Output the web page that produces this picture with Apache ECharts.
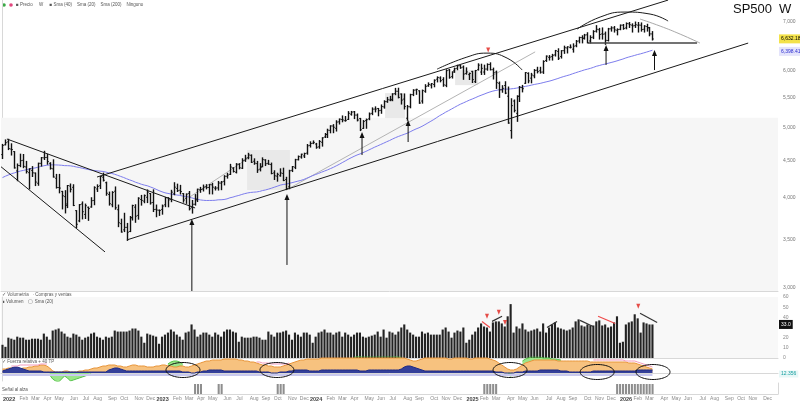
<!DOCTYPE html>
<html><head><meta charset="utf-8">
<script src="https://cdn.jsdelivr.net/npm/echarts@6/dist/echarts.min.js"></script>
<style>html,body{margin:0;padding:0;background:#fff}#c{width:800px;height:402px}</style>
</head><body><div id="c"></div>
<script>
// ---------------- DATA ----------------
const firstWeek = '2021-12-20';
const categoryCount = 263;
const monthNames = ['Jan','Feb','Mar','Apr','May','Jun','Jul','Aug','Sep','Oct','Nov','Dec'];

// weekly OHLC [open, high, low, close]
const ohlc = [
[4588,4740,4531,4725],[4733,4808,4733,4766],
[4778,4818,4662,4677],[4670,4749,4582,4663],[4632,4632,4395,4398],[4356,4453,4222,4432],[4431,4595,4415,4501],
[4505,4590,4401,4419],[4412,4490,4327,4349],[4332,4385,4114,4385],[4363,4416,4279,4329],
[4327,4327,4157,4204],[4188,4465,4161,4463],[4462,4546,4424,4543],[4541,4637,4517,4546],
[4547,4593,4450,4488],[4462,4471,4381,4392],[4385,4513,4271,4272],[4255,4308,4124,4132],
[4131,4308,4062,4124],[4081,4081,3859,4024],[4013,4090,3810,3901],[3920,4158,3875,4158],[4151,4178,4074,4109],
[4134,4168,3900,3901],[3838,3838,3636,3675],[3715,3913,3705,3912],[3920,3946,3738,3825],
[3792,3919,3743,3899],[3880,3882,3721,3863],[3883,3999,3880,3962],[3965,4141,3911,4130],
[4112,4167,4080,4145],[4155,4281,4118,4280],[4270,4325,4218,4228],[4195,4203,4031,4057],[4041,4072,3906,3924],
[3910,4077,3886,4067],[4083,4139,3855,3873],[3849,3907,3647,3693],[3682,3735,3584,3585],
[3610,3806,3590,3639],[3639,3685,3491,3583],[3591,3767,3590,3752],[3753,3905,3725,3901],[3881,3911,3698,3771],
[3780,3999,3735,3993],[3977,4029,3906,3965],[3956,4034,3936,4026],[4005,4100,3938,4072],
[4053,4053,3919,3934],[3939,4101,3827,3852],[3854,3907,3764,3845],[3843,3846,3780,3840],
[3853,3907,3795,3895],[3910,4003,3887,3999],[3999,3999,3885,3972],[3978,4095,3949,4071],[4049,4195,4037,4136],
[4119,4176,4079,4090],[4096,4160,4047,4079],[4052,4052,3943,3970],[3992,4048,3928,4046],
[4055,4079,3847,3862],[3874,3964,3808,3917],[3917,4039,3906,3971],[3982,4110,3951,4109],
[4102,4133,4069,4105],[4110,4164,4086,4137],[4140,4169,4114,4133],[4132,4170,4049,4169],
[4167,4187,4048,4136],[4123,4143,4099,4124],[4126,4212,4098,4191],[4190,4212,4103,4205],[4214,4290,4166,4282],
[4282,4322,4257,4299],[4308,4448,4306,4410],[4397,4400,4341,4348],[4337,4458,4328,4450],
[4450,4457,4385,4399],[4394,4528,4389,4505],[4508,4578,4490,4536],[4543,4607,4528,4582],[4578,4584,4474,4478],
[4492,4527,4449,4464],[4459,4490,4335,4370],[4380,4458,4356,4406],[4419,4541,4413,4515],
[4511,4514,4431,4457],[4462,4505,4448,4450],[4445,4466,4316,4320],[4328,4358,4238,4288],
[4284,4324,4216,4308],[4289,4385,4283,4327],[4321,4394,4223,4224],[4238,4268,4104,4117],[4140,4365,4116,4358],
[4364,4418,4347,4415],[4407,4520,4388,4514],[4514,4568,4511,4559],[4554,4595,4537,4594],
[4569,4609,4546,4604],[4610,4738,4594,4719],[4725,4779,4700,4754],[4758,4793,4751,4770],
[4745,4755,4682,4697],[4703,4798,4682,4784],[4772,4842,4714,4840],[4853,4907,4845,4891],[4892,4975,4845,4959],
[4957,5030,4918,5027],[5026,5048,4920,5006],[4989,5111,4946,5089],[5093,5140,5058,5137],
[5131,5190,5094,5124],[5112,5180,5104,5117],[5133,5262,5131,5234],[5219,5265,5203,5254],
[5258,5264,5146,5204],[5204,5222,5108,5123],[5149,5149,4953,4967],[4988,5114,4987,5100],[5114,5139,4990,5128],
[5142,5239,5128,5223],[5233,5325,5211,5303],[5305,5342,5257,5305],[5315,5315,5192,5278],
[5283,5375,5234,5347],[5342,5447,5320,5432],[5431,5505,5420,5465],[5460,5524,5448,5460],
[5471,5570,5448,5567],[5572,5666,5553,5615],[5614,5669,5497,5505],[5565,5566,5390,5459],[5476,5566,5306,5347],
[5152,5366,5119,5344],[5344,5561,5326,5554],[5554,5642,5537,5634],[5637,5651,5560,5648],
[5623,5623,5402,5408],[5442,5636,5406,5626],[5615,5733,5597,5703],[5711,5767,5704,5738],[5727,5754,5674,5751],
[5737,5822,5695,5815],[5834,5878,5784,5865],[5857,5878,5785,5808],[5826,5862,5704,5729],
[5722,6012,5697,5996],[6008,6018,5853,5870],[5883,5973,5856,5969],[5992,6044,5963,6032],
[6040,6099,6013,6090],[6090,6100,6040,6051],[6063,6085,5832,5931],[5940,6049,5929,5971],[5920,5949,5829,5942],
[5982,5982,5773,5827],[5788,6000,5773,5997],[6014,6128,6007,6101],[5969,6120,5923,6040],
[5969,6101,5924,6026],[6026,6127,6004,6115],[6115,6147,6009,6013],[6013,6044,5838,5955],
[5968,5987,5666,5770],[5759,5782,5505,5639],[5640,5715,5597,5667],[5718,5787,5572,5581],[5527,5691,5069,5074],
[4953,5482,4835,5363],[5442,5460,5257,5283],[5233,5534,5101,5525],[5525,5700,5434,5687],
[5680,5720,5603,5660],[5759,5959,5756,5958],[5944,5954,5768,5803],[5854,5944,5767,5912],
[5897,6016,5861,6000],[6004,6060,5952,5977],[5994,6060,5949,5967],[5969,6187,5943,6173],[6193,6284,6174,6279],
[6255,6290,6201,6260],[6269,6315,6201,6297],[6304,6395,6281,6389],[6374,6428,6212,6238],
[6271,6390,6241,6389],[6389,6482,6335,6450],[6445,6470,6343,6467],[6457,6508,6445,6460],
[6420,6530,6360,6482],[6490,6600,6470,6584],[6590,6670,6550,6664],[6660,6700,6550,6644],[6650,6730,6630,6716],
[6720,6765,6550,6553],[6590,6700,6550,6664],[6670,6810,6640,6791],[6800,6920,6780,6840],
[6830,6860,6630,6728],[6740,6870,6630,6734],[6740,6780,6520,6603],[6600,6860,6590,6849],
[6850,6895,6800,6870],[6870,6900,6780,6827],[6820,6850,6720,6834],[6840,6935,6830,6930],[6930,6945,6840,6858],
[6870,6980,6850,6966],[6960,6990,6880,6940],[6930,6960,6780,6915],[6920,7000,6880,6939],
[6930,6990,6780,6932],[6930,6980,6800,6836],[6840,6920,6780,6909],[6900,6950,6800,6878],
[6870,6880,6700,6740],[6740,6790,6610,6632.18]
];

// weekly closes before the first bar (for the 52-week average)
const priorCloses = [3756,3825,3768,3841,3714,3887,3934,3907,3811,3842,3943,3913,
3975,4020,4129,4185,4180,4181,4233,4174,4156,4204,4230,4247,4166,4281,4352,4370,4327,4412,4395,4437,4468,4442,4509,4535,4459,4433,4455,4357,4391,4471,4545,4605,4697,4682,4698,4595,4538,4712,4620];
const smaLength = 52;

// weekly volume (panel units)
const volume = [
13,11,20,19,18,21,20,20,18,18,19,19,19,18,24,21,18,27,28,29,26,24,21,20,24,23,21,18,20,21,
24,25,21,20,18,21,20,21,27,26,26,26,26,27,29,29,27,21,15,24,23,22,21,14,21,23,25,28,26,23,
21,18,25,26,33,28,21,23,25,25,23,21,25,23,21,26,28,28,26,25,16,21,20,20,20,21,21,20,18,18,
26,23,21,25,25,26,27,23,18,25,23,21,25,25,23,15,21,25,26,28,25,25,23,25,26,21,25,23,21,23,
25,25,21,20,21,22,23,26,21,28,20,26,25,23,26,
30,33,28,25,23,21,21,26,24,25,23,23,23,23,28,30,26,20,25,27,26,30,15,18,23,26,30,34,31,30,
26,35,36,36,34,31,41,53,25,31,29,34,28,26,27,28,29,26,34,25,30,33,35,30,29,28,27,28,30,36,
38,32,31,33,32,32,36,37,32,33,30,31,35,41,15,16,33,35,36,43,39,25,35,34,33,33
];

// oscillator panel
const indOrange = [
4,4,5,5,5,4,4,5,5,6,6,7,7, 8,8,7,5, 2,1,1,1,2,2,1,1,1,2,2,3,3,4, 5,5,6,7,7,8, 8,8,7,7,6,6,7,8,8,
7,7,7,6,6,6,7,7,8,8,7, 7,6,6,7,7,6,6,7,8,9,10,
11,12,12,13,13,13,13,14,14,14,14,14,13,13,12,12,11,11,10,9, 8,8,7,7,6,6,6,7,8,9,
10,11,12,13,13,14,14,14,14,14,15,15,15,15,15,15,15,15,15,15,15,15,15,15,15,15,15,15,15,15,15,15,15,15,15,15,15,15,
15,14,13,12,12,13,14,
15,15,15,15,15,15,15,15,14,14,15,15,15,15,15,14,14,15,15,15,15,15,
14,13,12,10,8,6,4,3,3,4,6,8, 10,11,12,13,13,13,13,13,13,13,13,12,12,
12,12,12,12,12,12,12,12,12,11,11,11,11,11,11,11,11,11,11,11,11,11,10,10,10,9, 8,7,6,5,4
];
const indNavy = [
2,3,4,5,6,6,5,4,3,2,2,2,2,2, 1,1,1,1,1,1,1,1,1,1,1,1,1,1,1,1,1,1,1,1,1,1, 3,4,5,5,4,3,2,2,2,2,
2,2,2,2,2,2,2,2,2,2,2,2,2,2,2, 1,1,1,0,0,1,1,
2,2,3,3,3,3,3,2,2,2,2,2,2,2,2,2,2,2,2,1, 1,1,1,0,0,0,1,1,1,2,
2,3,3,3,3,3,2,2,2,2,3,3,3,3,3,3,3,3,3,3,3,3,3,2,2,2,3,3,3,3,3,3,3,3,3,3,3,
4,6,7,7,6,5,4,3,
2,2,2,2,2,2,2,2,2,2,2,2,2,2,2,2,2,2,2,2,2,2,
2,2,1,1,1,0,0,0,0,1,1,1,2,
2,2,2,2,3,3,3,3,3,3,3,2,2,2,1,1,1,1,1,1,1,1,2,2,2,2,2,2,2,2,2,2,2,2,2,2,2,3,
3,3,3,3,3
];
// green segments: start week -> values
const indGreenSegments = [
  [16, [-2,-6,-8,-9,-6,-3,-5,-8,-7,-6,-5,-4,-3,-2,-1]],
  [56, [9,11,12,12,11,9]],
  [119,[16,16.5,16.5,17,17,17,17,17,17,17,17,17,17,17,16.5,16,16]],
  [171,[-2,-3,-2]],
  [176,[12,14,15,16,16,16,16,15,15,15,14,14,13.5,13]]
];
const indPinkSegments = [
  [3,  [7,7,7,8,8,8,8,8,8,8,9,9,9]],
  [86, [11,11,10,10,10,9,9,9,9,9,9,10]],
  [200,[13,13,13,13,13,13,13,13,13,13,13,12,12,12,12,11,10,9,8,7,6]]
];
const signalWeeks = [65,66,67,73,74,93,94,95,163,164,165,166,167,208,209,210,211,212,213,214,215,216,217,218,219,220];
const oscTagValue = 12.356;

// price-axis ticks
const priceTicks = [3000,3500,4000,4500,5000,5500,6000,7000];
const priceRange = [2971, 7509];

// annotations in (week index, price)
const blackLines = [
  [[1.5,4822],[65.2,3871]],
  [[-0.5,4414],[34.7,3365]],
  [[42.1,3496],[252.4,6546]],
  [[32.0,4272],[225.3,7507]]
];
const supportLine = [[198.2,6546],[235.1,6546]];
const grayLines = [
  [[63.4,4009],[83.8,4553]],
  [[97.3,4125],[180.3,6365]]
];
const blackCurves = [
  [[147.1,6024],[157.2,6260],[164.0,6340],[170.8,6240],[175.9,6007]],
  [[194.5,6845],[202.3,7112],[210.7,7226],[219.2,7180],[225.3,7022]]
];
const grayCurves = [
  [[215.8,7067],[222.6,6910],[229.4,6735],[236.1,6546]]
];
const arrows = [ // [week, fromPrice, toPrice]
  [64.1,2971,3702],[96.3,3228,4009],[121.7,4582,4883],[137.3,4776,5074],[204.3,6106,6446],[220.7,6007,6343]
];
const shadedBoxes = [
  [[82.8,4098],[97.3,4656]],
  [[129.5,5154],[136.3,5581]],
  [[153.2,5725],[161.0,6007]]
];
const lowerZoneTop = 5160;
const priceRedMarks = [[164.4,6401]];
// volume annotations (week index, volume)
const volRedLines = [ [[162.3,36],[165,30]], [[201.6,41],[207.4,34]] ];
const volBlackLines = [ [[165.7,36],[169.1,41]], [[184.3,30],[187.7,36]], [[195.5,37],[199.9,31]], [[215.8,44],[221.6,35]] ];
const volRedMarks = [[164,41],[168,45],[170.1,35],[215.2,51]];
// oscillator ellipses (week index, value)
const ellipseCenters = [[61.1,3],[92.9,3],[171.8,3],[201.3,1],[220.2,1]];

// ---------------- BUILD ----------------
const L = Math.log;
const cats = [];
const t0 = Date.parse(firstWeek + 'T00:00:00Z');
for (let i = 0; i < categoryCount; i++) cats.push(new Date(t0 + i * 7 * 86400000).toISOString().slice(0, 10));

const closes = ohlc.map(d => d[3]);
const allCloses = priorCloses.concat(closes);
const sma = closes.map((c, i) => {
  const j = i + priorCloses.length; let s = 0;
  for (let k = j - smaLength + 1; k <= j; k++) s += allCloses[k];
  return s / smaLength;
});
const lastClose = closes[closes.length - 1];
const lastSma = sma[sma.length - 1];

function fromSegments(segs) {
  const arr = new Array(ohlc.length).fill(null);
  segs.forEach(([s, vals]) => vals.forEach((v, k) => { if (s + k < arr.length) arr[s + k] = v; }));
  return arr;
}
const indGreen = fromSegments(indGreenSegments);
const indPink = fromSegments(indPinkSegments);
const signals = ohlc.map((d, i) => signalWeeks.includes(i) ? 1 : null);

const fmt = v => v.toLocaleString('en-US', {minimumFractionDigits: 2, maximumFractionDigits: 2});
const logPts = pts => pts.map(p => [p[0], L(p[1])]);
const FONT = 'Liberation Sans, Arial, sans-serif';
const hiddenLine = {color: 'rgba(0,0,0,0)', width: 0};

const series = [];
// price bars (OHLC)
series.push({
  type: 'custom', xAxisIndex: 0, yAxisIndex: 0, z: 5,
  data: ohlc.map((d, i) => [i, L(d[0]), L(d[1]), L(d[2]), L(d[3])]),
  encode: {x: 0, y: [1, 2, 3, 4]},
  renderItem: (params, api) => {
    const i = api.value(0);
    const o = api.coord([i, api.value(1)]), h = api.coord([i, api.value(2)]);
    const l = api.coord([i, api.value(3)]), c = api.coord([i, api.value(4)]);
    const x = Math.round(h[0]) + 0.5, w = 1.3;
    return {type: 'group', children: [
      {type: 'line', shape: {x1: x, y1: h[1] - 0.5, x2: x, y2: l[1] + 0.5}, style: {stroke: '#111', lineWidth: 1.4}},
      {type: 'line', shape: {x1: x - w, y1: o[1], x2: x, y2: o[1]}, style: {stroke: '#111', lineWidth: 1}},
      {type: 'line', shape: {x1: x, y1: c[1], x2: x + w, y2: c[1]}, style: {stroke: '#111', lineWidth: 1}}
    ]};
  }
});
// moving average + background zone
series.push({
  type: 'line', xAxisIndex: 0, yAxisIndex: 0, z: 4, symbol: 'none',
  data: sma.map(L), lineStyle: {color: '#7d7ded', width: 1},
  markArea: {silent: true, itemStyle: {color: '#f6f6f6'}, data: [[{yAxis: L(priceRange[0])}, {yAxis: L(lowerZoneTop)}]]}
});
// price tags on the right
series.push({
  type: 'line', xAxisIndex: 0, yAxisIndex: 0, z: 20, symbol: 'none', data: [], lineStyle: hiddenLine,
  markLine: {silent: true, symbol: 'none', animation: false, lineStyle: hiddenLine,
    data: [
      {yAxis: L(lastClose), lineStyle: hiddenLine, label: {show: true, position: 'end', distance: 1, formatter: fmt(lastClose), backgroundColor: '#f3e24a', color: '#000', fontSize: 5, padding: [2, 2], fontFamily: FONT}},
      {yAxis: L(lastSma), lineStyle: hiddenLine, label: {show: true, position: 'end', distance: 1, formatter: fmt(lastSma), backgroundColor: '#e4e4fb', color: '#2b2bd0', fontSize: 5, padding: [2, 2], fontFamily: FONT}}
    ]}
});
// shaded boxes
series.push({
  type: 'line', xAxisIndex: 1, yAxisIndex: 0, data: [], z: 2,
  markArea: {silent: true, itemStyle: {color: '#e9e9e9'},
    data: shadedBoxes.map(b => [{coord: [b[0][0], L(b[0][1])]}, {coord: [b[1][0], L(b[1][1])]}])}
});
blackLines.forEach(seg => series.push({type: 'line', xAxisIndex: 1, yAxisIndex: 0, z: 6, symbol: 'none', silent: true, data: logPts(seg), lineStyle: {color: '#1a1a1a', width: 1}}));
series.push({type: 'line', xAxisIndex: 1, yAxisIndex: 0, z: 6, symbol: 'none', silent: true, data: logPts(supportLine), lineStyle: {color: '#444', width: 1.6}});
grayLines.forEach(seg => series.push({type: 'line', xAxisIndex: 1, yAxisIndex: 0, z: 3, symbol: 'none', silent: true, data: logPts(seg), lineStyle: {color: '#b4b4b4', width: 1}}));
blackCurves.forEach(seg => series.push({type: 'line', xAxisIndex: 1, yAxisIndex: 0, z: 6, symbol: 'none', silent: true, smooth: 0.5, data: logPts(seg), lineStyle: {color: '#1a1a1a', width: 1}}));
grayCurves.forEach(seg => series.push({type: 'line', xAxisIndex: 1, yAxisIndex: 0, z: 3, symbol: 'none', silent: true, smooth: 0.5, data: logPts(seg), lineStyle: {color: '#a8a8a8', width: 1}}));
arrows.forEach(a => series.push({
  type: 'line', xAxisIndex: 1, yAxisIndex: 0, z: 7, silent: true,
  data: [{value: [a[0], L(a[1])], symbol: 'none'}, {value: [a[0], L(a[2])], symbol: 'triangle', symbolSize: [5, 6]}],
  lineStyle: {color: '#111', width: 1}, itemStyle: {color: '#111'}
}));
series.push({type: 'scatter', xAxisIndex: 1, yAxisIndex: 0, z: 8, silent: true, symbol: 'triangle', symbolRotate: 180, symbolSize: [4, 5],
  itemStyle: {color: '#e0201a'}, data: logPts(priceRedMarks)});

// volume
series.push({
  type: 'bar', xAxisIndex: 2, yAxisIndex: 1, data: volume, barCategoryGap: '28%',
  itemStyle: {color: '#232323'}
});
series.push({
  type: 'line', xAxisIndex: 2, yAxisIndex: 1, z: 20, symbol: 'none', data: [], lineStyle: hiddenLine,
  markLine: {silent: true, symbol: 'none', animation: false, lineStyle: hiddenLine,
    data: [{yAxis: volume[volume.length - 1], lineStyle: hiddenLine, label: {show: true, position: 'end', distance: 1, formatter: volume[volume.length - 1].toFixed(1), backgroundColor: '#111', color: '#fff', fontSize: 5, padding: [2, 2], fontFamily: FONT}}]}
});
volRedLines.forEach(seg => series.push({type: 'line', xAxisIndex: 3, yAxisIndex: 1, z: 6, symbol: 'none', silent: true, data: seg, lineStyle: {color: '#ef4a4a', width: 1.2}}));
volBlackLines.forEach(seg => series.push({type: 'line', xAxisIndex: 3, yAxisIndex: 1, z: 6, symbol: 'none', silent: true, data: seg, lineStyle: {color: '#333', width: 1.2}}));
series.push({type: 'scatter', xAxisIndex: 3, yAxisIndex: 1, z: 8, silent: true, symbol: 'triangle', symbolRotate: 180, symbolSize: [4, 5],
  itemStyle: {color: '#e0201a'}, data: volRedMarks});

// oscillator
series.push({type: 'line', xAxisIndex: 4, yAxisIndex: 2, z: 2, symbol: 'none', silent: true, data: indGreen,
  lineStyle: {color: '#55c24a', width: 1}, areaStyle: {color: '#9be58a', opacity: 1}});
series.push({type: 'line', xAxisIndex: 4, yAxisIndex: 2, z: 3, symbol: 'none', silent: true, data: indOrange,
  lineStyle: {color: '#e8953a', width: 1}, areaStyle: {color: '#f7c27f', opacity: 1}});
series.push({type: 'line', xAxisIndex: 4, yAxisIndex: 2, z: 4, symbol: 'none', silent: true, data: indNavy,
  lineStyle: {color: '#1f2b84', width: 1}, areaStyle: {color: '#34409a', opacity: 1},
  markLine: {silent: true, symbol: 'none', animation: false, lineStyle: {color: '#c9c9ef', width: 2, type: 'solid'}, label: {show: false},
    data: [[{coord: [0, -1.5]}, {coord: [ohlc.length - 1, -1.5]}]]}});
series.push({type: 'line', xAxisIndex: 4, yAxisIndex: 2, z: 5, symbol: 'none', silent: true, data: indPink,
  lineStyle: {color: '#f39bbd', width: 1}});
series.push({
  type: 'line', xAxisIndex: 4, yAxisIndex: 2, z: 20, symbol: 'none', data: [], lineStyle: hiddenLine,
  markLine: {silent: true, symbol: 'none', animation: false, lineStyle: hiddenLine,
    data: [{yAxis: -1, lineStyle: hiddenLine, label: {show: true, position: 'end', distance: 1, formatter: String(oscTagValue), backgroundColor: '#e7f7f7', color: '#18a0a0', fontSize: 5, padding: [1, 2], fontFamily: FONT}}]}
});
series.push({
  type: 'custom', xAxisIndex: 5, yAxisIndex: 2, z: 9, silent: true, clip: false,
  data: ellipseCenters, encode: {x: 0, y: 1},
  renderItem: (params, api) => {
    const c = api.coord([api.value(0), api.value(1)]);
    const rx = 17, ry = 7.5, pts = [];
    for (let k = 0; k < 60; k++) { const a = k / 60 * Math.PI * 2; pts.push([c[0] + rx * Math.cos(a), c[1] + ry * Math.sin(a)]); }
    return {type: 'polygon', shape: {points: pts}, style: {fill: 'none', stroke: '#111', lineWidth: 1}};
  }
});
// signal bars
series.push({type: 'bar', xAxisIndex: 6, yAxisIndex: 3, data: signals, barCategoryGap: '30%', itemStyle: {color: '#8e8e8e'}});

const hiddenCat = g => ({type: 'category', gridIndex: g, data: cats, boundaryGap: true,
  axisLine: {show: true, lineStyle: {color: '#d8d8d8'}}, axisTick: {show: false}, axisLabel: {show: false}, splitLine: {show: false}});
const hiddenVal = g => ({type: 'value', gridIndex: g, min: -0.5, max: categoryCount - 0.5, show: false});

const option = {
  animation: false,
  backgroundColor: '#fff',
  textStyle: {fontFamily: FONT},
  grid: [
    {left: 1, right: 22, top: 0, height: 291},
    {left: 1, right: 22, top: 297, height: 61, show: true, backgroundColor: '#f8f8f8', borderWidth: 0},
    {left: 1, right: 22, top: 357, height: 24},
    {left: 1, right: 22, top: 383, height: 13}
  ],
  xAxis: [
    hiddenCat(0), hiddenVal(0),
    hiddenCat(1), hiddenVal(1),
    hiddenCat(2), hiddenVal(2),
    {type: 'category', gridIndex: 3, data: cats, boundaryGap: true,
      axisLine: {show: true, lineStyle: {color: '#d8d8d8'}}, axisTick: {show: false}, splitLine: {show: false},
      axisLabel: {
        show: true, margin: 2, fontSize: 5, color: '#8a8a8a',
        interval: (idx, val) => Number(val.slice(8, 10)) <= 7,
        formatter: val => { const m = Number(val.slice(5, 7)) - 1; return m === 0 ? '{y|' + val.slice(0, 4) + '}' : monthNames[m]; },
        rich: {y: {fontSize: 5.5, fontWeight: 'bold', color: '#444'}}
      }}
  ],
  yAxis: [
    {type: 'value', gridIndex: 0, position: 'right', min: L(priceRange[0]), max: L(priceRange[1]), splitLine: {show: false},
      axisLine: {show: true, lineStyle: {color: '#d8d8d8'}}, axisTick: {show: false},
      axisLabel: {show: true, customValues: priceTicks.map(L), fontSize: 5, color: '#777', margin: 5,
        formatter: v => Math.round(Math.exp(v)).toLocaleString('en-US')}},
    {type: 'value', gridIndex: 1, position: 'right', min: 0, max: 60, interval: 10, splitLine: {show: false},
      axisLine: {show: true, lineStyle: {color: '#d8d8d8'}}, axisTick: {show: false},
      axisLabel: {fontSize: 5, color: '#888', margin: 5}},
    {type: 'value', gridIndex: 2, position: 'right', min: -8, max: 16, splitLine: {show: false},
      axisLine: {show: true, lineStyle: {color: '#d8d8d8'}}, axisTick: {show: false}, axisLabel: {show: false}},
    {type: 'value', gridIndex: 3, position: 'right', min: 0, max: 1.1, splitLine: {show: false},
      axisLine: {show: true, lineStyle: {color: '#d8d8d8'}}, axisTick: {show: false}, axisLabel: {show: false}}
  ],
  graphic: [
    {type: 'text', left: 733, top: 3, style: {text: 'SP500', font: '13px ' + FONT, fill: '#111'}},
    {type: 'text', left: 779, top: 3, style: {text: 'W', font: '13px ' + FONT, fill: '#111'}},
    {type: 'circle', shape: {cx: 4, cy: 5, r: 1.8}, style: {fill: '#3aa845'}},
    {type: 'circle', shape: {cx: 11, cy: 5, r: 1.8}, style: {fill: '#e2477f'}},
    {type: 'text', left: 16, top: 2.5, style: {text: '■ Precio     W     ■ Sma (40)    Sma (20)    Sma (200)    Ninguno', font: '4.5px ' + FONT, fill: '#555'}},
    {type: 'text', left: 2, top: 292, style: {text: '✓ Volumetría   · Compras y ventas', font: '4.5px ' + FONT, fill: '#555'}},
    {type: 'text', left: 2, top: 299, style: {text: '■ Volumen    ▢ Sma (20)', font: '4.5px ' + FONT, fill: '#555'}},
    {type: 'text', left: 2, top: 359, style: {text: '✓ Fuerza relativa + 40 TP', font: '4.5px ' + FONT, fill: '#555'}},
    {type: 'text', left: 2, top: 387, style: {text: 'Señal al alza', font: '4.5px ' + FONT, fill: '#555'}}
  ],
  series: series
};
const chart = echarts.init(document.getElementById('c'), null, {renderer: 'canvas'});
chart.setOption(option);
</script></body></html>
